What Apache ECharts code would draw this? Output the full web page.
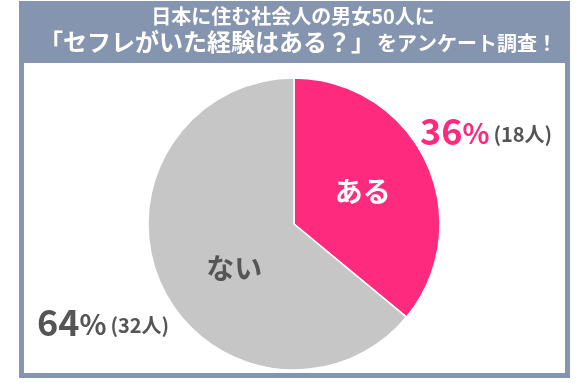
<!DOCTYPE html>
<html><head><meta charset="utf-8">
<script src="https://cdn.jsdelivr.net/npm/echarts@6/dist/echarts.min.js"></script>
<style>html,body{margin:0;padding:0;background:#fff}#c{width:580px;height:383px}</style>
</head><body><div id="c"></div>
<script>
const categories = ['ある', 'ない'];
const percentValues = [36, 64];
const peopleCounts = [18, 32];
const titleLine1 = '日本に住む社会人の男女50人に';
const titleLine2a = '「セフレがいた経験はある？」';
const titleLine2b = 'をアンケート調査！';

const FONT = '"Noto Sans CJK JP", "Noto Sans", sans-serif';
const frame = '#8595AF';
const pink = '#FE2A7E';
const grey = '#C6C6C6';
const dark = '#555555';

const chart = echarts.init(document.getElementById('c'), null, {renderer: 'canvas'});
chart.setOption({
  backgroundColor: '#fff',
  animation: false,
  graphic: [
    {type: 'rect', shape: {x: 19, y: 1, width: 551, height: 377}, style: {fill: frame}, z: 0},
    {type: 'rect', shape: {x: 24, y: 63, width: 541, height: 310}, style: {fill: '#fff'}, z: 1},
    {type: 'text', x: 293, y: 16, z: 5, style: {text: titleLine1, fill: '#fff', font: 'bold 20px ' + FONT, align: 'center', verticalAlign: 'middle'}},
    {type: 'text', x: 298, y: 42, z: 5, style: {
      text: '{a|' + titleLine2a + '}{b|' + titleLine2b + '}',
      align: 'center', verticalAlign: 'middle',
      rich: {
        a: {fill: '#fff', fontSize: 24, fontWeight: 'bold', fontFamily: FONT},
        b: {fill: '#fff', fontSize: 20, fontWeight: 'bold', fontFamily: FONT, padding: [2, 0, 0, 2]}
      }
    }},
    {type: 'text', x: 420, y: 131, z: 5, style: {
      text: '{n|' + percentValues[0] + '}{p|%}{c|(' + peopleCounts[0] + '人)}',
      verticalAlign: 'middle',
      rich: {
        n: {fontSize: 36, fontWeight: 'bold', fontFamily: FONT, fill: pink},
        p: {fontSize: 28, fontWeight: 'bold', fontFamily: FONT, fill: pink, padding: [4, 0, 0, 0]},
        c: {fontSize: 20, fontWeight: 'bold', fontFamily: FONT, fill: dark, padding: [6, 0, 0, 4]}
      }
    }},
    {type: 'text', x: 37, y: 322, z: 5, style: {
      text: '{n|' + percentValues[1] + '}{p|%}{c|(' + peopleCounts[1] + '人)}',
      verticalAlign: 'middle',
      rich: {
        n: {fontSize: 36, fontWeight: 'bold', fontFamily: FONT, fill: dark},
        p: {fontSize: 28, fontWeight: 'bold', fontFamily: FONT, fill: dark, padding: [4, 0, 0, 0]},
        c: {fontSize: 20, fontWeight: 'bold', fontFamily: FONT, fill: dark, padding: [6, 0, 0, 4]}
      }
    }}
  ],
  series: [{
    type: 'pie',
    center: [294, 224],
    radius: [0, 146],
    startAngle: 90,
    clockwise: true,
    z: 3,
    itemStyle: {borderColor: '#fff', borderWidth: 1.5},
    label: {show: true, position: 'inner', fontSize: 28, fontWeight: 'bold', fontFamily: FONT, formatter: '{b}'},
    labelLine: {show: false},
    labelLayout: function (p) { return p.dataIndex === 1 ? {dx: 9, dy: 12} : {}; },
    emphasis: {disabled: true},
    data: [
      {name: categories[0], value: percentValues[0], itemStyle: {color: pink}, label: {color: '#fff'}},
      {name: categories[1], value: percentValues[1], itemStyle: {color: grey}, label: {color: dark}}
    ]
  }]
});
</script></body></html>
